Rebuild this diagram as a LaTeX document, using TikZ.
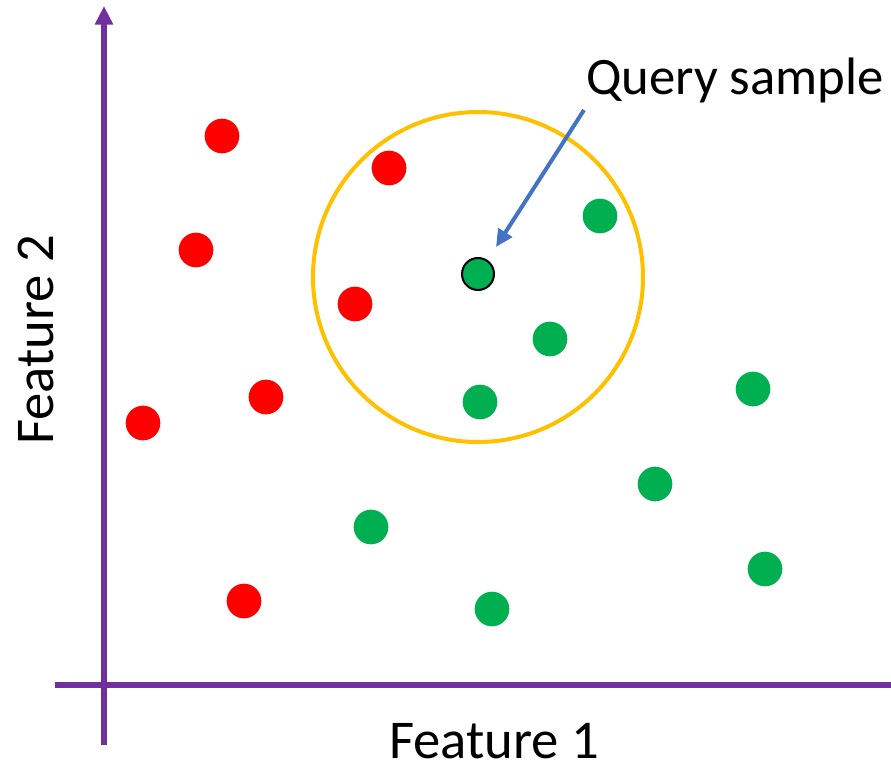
\documentclass[tikz,border=0pt]{standalone}
\usepackage{fontspec}
\setmainfont{Carlito}
\usetikzlibrary{arrows.meta}
\definecolor{axpurple}{HTML}{7030A0}
\definecolor{rd}{HTML}{FF0000}
\definecolor{gr}{HTML}{00B050}
\definecolor{ring}{HTML}{FFC000}
\definecolor{bl}{HTML}{4472C4}
\begin{document}
\begin{tikzpicture}[x=0.75pt,y=-0.75pt,
  axis/.style={draw=axpurple,line width=3.8pt},
  reddot/.style={circle,fill=rd,minimum size=26pt,inner sep=0pt},
  greendot/.style={circle,fill=gr,minimum size=26pt,inner sep=0pt},
  querydot/.style={circle,fill=gr,draw=black,line width=1.5pt,minimum size=24pt,inner sep=0pt},
  lbl/.style={font=\fontsize{41}{49}\selectfont,inner sep=0pt}]
\useasboundingbox (0,0) rectangle (891,770);
% axes
\coordinate (yb) at (104,745);
\coordinate (yt) at (104,6);
\coordinate (xl) at (55,685);
\coordinate (xr) at (891,685);
\draw[axis,-{Triangle[length=14pt,width=13pt]}] (yb) -- (yt);
\draw[axis] (xl) -- (xr);
% circle
\node[draw=ring,line width=3pt,circle,minimum size=247.5pt,inner sep=0pt] (ring) at (478,277) {};
% red points
\node[reddot] (r1) at (222,136) {};
\node[reddot] (r2) at (389,168) {};
\node[reddot] (r3) at (196,250) {};
\node[reddot] (r4) at (355,304) {};
\node[reddot] (r5) at (266,397) {};
\node[reddot] (r6) at (143,423) {};
\node[reddot] (r7) at (244,601) {};
% green points
\node[greendot] (g1) at (600,216) {};
\node[greendot] (g2) at (550,339) {};
\node[greendot] (g3) at (480,402) {};
\node[greendot] (g4) at (753,389) {};
\node[greendot] (g5) at (655,484) {};
\node[greendot] (g6) at (371,527) {};
\node[greendot] (g7) at (765,569) {};
\node[greendot] (g8) at (492,609) {};
\node[querydot] (q) at (478,274) {};
% labels
\node[lbl,font=\fontsize{39.5}{47}\selectfont,anchor=base west] (qs) at (586,95) {Query sample};
\node[lbl,anchor=base west] (f1) at (389,758) {Feature 1};
\node[lbl,anchor=base,rotate=90] (f2) at (53,340) {Feature 2};
% arrow
\coordinate (as) at (584,110);
\coordinate (ae) at (496,247);
\draw[bl,line width=3pt,-{Triangle[length=13pt,width=12pt]}] (as) -- (ae);
\end{tikzpicture}
\end{document}
